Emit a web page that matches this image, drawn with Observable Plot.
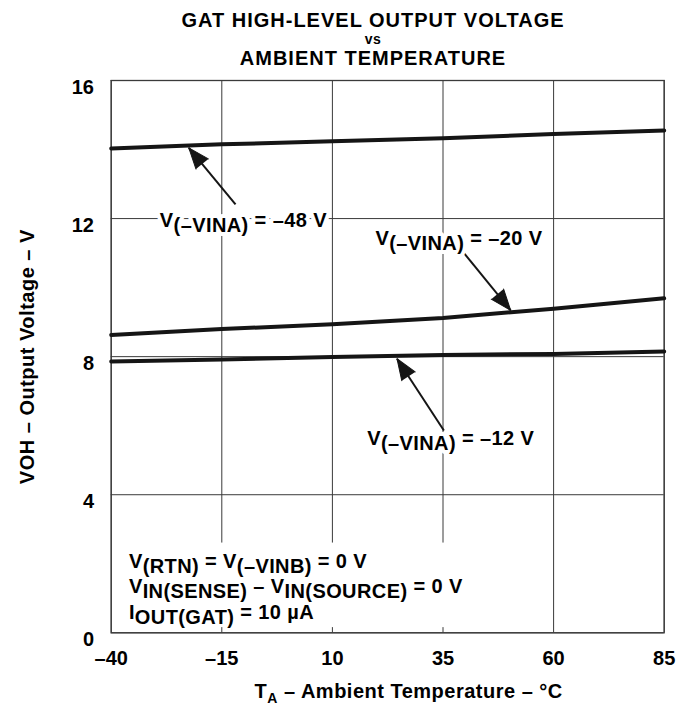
<!DOCTYPE html>
<html><head><meta charset="utf-8">
<script src="https://cdn.jsdelivr.net/npm/d3@7"></script>
<script src="https://cdn.jsdelivr.net/npm/@observablehq/plot@0.6"></script>
<style>
body{margin:0;background:#fff;font-family:"Liberation Sans",Arial,sans-serif;font-weight:bold;color:#000}
#title{position:relative;width:678px;height:72px;overflow:hidden}
#title div{position:absolute;left:0;width:746px;text-align:center;white-space:nowrap;line-height:1}
#chart svg{display:block}
</style></head><body>
<div id="title">
<div style="top:10.1px;font-size:20px;letter-spacing:1px">GAT HIGH-LEVEL OUTPUT VOLTAGE</div>
<div style="top:32.3px;font-size:14px;letter-spacing:0.5px">vs</div>
<div style="top:48.3px;font-size:20px;letter-spacing:1px">AMBIENT TEMPERATURE</div>
</div>
<div id="chart"></div>
<script>
// ---- data ----
const temps  = [-40, -15, 10, 35, 60, 85];
const vout48 = [14.03, 14.15, 14.24, 14.33, 14.45, 14.55];
const vout20 = [8.63, 8.80, 8.94, 9.12, 9.39, 9.69];
const vout12 = [7.86, 7.92, 7.99, 8.05, 8.08, 8.15];
const seriesNames = ["–48 V", "–20 V", "–12 V"];

const xTicks = [-40, -15, 10, 35, 60, 85];
const xTickLabels = ["–40", "–15", "10", "35", "60", "85"];
const yTicks = [0, 4, 8, 12, 16];
const yTickLabels = ["0", "4", "8", "12", "16"];

const xLabel = "T~{A} – Ambient Temperature – °C";
const yLabel = "VOH – Output Voltage – V";

// annotations (data coordinates)
const labelTexts = ["V_{(–VINA)} = –48 V", "V_{(–VINA)} = –20 V", "V_{(–VINA)} = –12 V"];
const labelX = [-29.0, 19.74, 17.87];
const labelY = [11.76, 11.24, 5.45];
const arrowFromX = [-11.9, 39.3, 35.2];
const arrowFromY = [12.41, 11.07, 5.86];
const arrowToX = [-22.46, 50.3, 24.6];
const arrowToY = [14.05, 9.34, 7.94];

const condTexts = ["V_{(RTN)} = V_{(–VINB)} = 0 V", "V_{IN(SENSE)} – V_{IN(SOURCE)} = 0 V", "I_{OUT(GAT)} = 10 µA"];
const condX = [-36.0, -36.0, -36.0];
const condY = [1.88, 1.15, 0.41];
const condBox = [{x1: -38, x2: 42.5, y1: 0.15, y2: 2.6}];

// ---- build tables ----
const allSeries = [vout48, vout20, vout12];
const lineData = [];
allSeries.forEach((vals, s) => vals.forEach((v, i) => lineData.push({t: temps[i], v, series: seriesNames[s]})));

const W = 678, H = 634, mL = 110.7, mR = 14.3, mT = 8, mB = 73.7;
const xDomain = [-40, 85], yDomain = [0, 16];
const kx = (W - mL - mR) / (xDomain[1] - xDomain[0]);
const ky = (H - mT - mB) / (yDomain[1] - yDomain[0]);

const arrows = arrowFromX.map((x1, i) => ({
  x1, y1: arrowFromY[i], x2: arrowToX[i], y2: arrowToY[i],
  angle: Math.atan2((arrowToX[i] - x1) * kx, (arrowToY[i] - arrowFromY[i]) * ky) * 180 / Math.PI
}));
const labels = labelTexts.map((text, i) => ({text, x: labelX[i], y: labelY[i]}));
const conds = condTexts.map((text, i) => ({text, x: condX[i], y: condY[i]}));

const xMap = new Map(xTicks.map((d, i) => [d, xTickLabels[i]]));
const yMap = new Map(yTicks.map((d, i) => [d, yTickLabels[i]]));

const gridColor = "#3a3a3a";
const ink = "#151515";

const chart = Plot.plot({
  width: W, height: H,
  marginLeft: mL, marginRight: mR, marginTop: mT, marginBottom: mB,
  style: {fontFamily: '"Liberation Sans", Arial, sans-serif', fontSize: "20px", fontWeight: "bold", color: "#000", background: "#fff", overflow: "visible"},
  x: {domain: xDomain},
  y: {domain: yDomain},
  marks: [
    Plot.gridX(xTicks, {stroke: gridColor, strokeOpacity: 1, strokeWidth: 1}),
    Plot.gridY(yTicks, {stroke: gridColor, strokeOpacity: 1, strokeWidth: 1}),
    Plot.rect(condBox, {x1: "x1", x2: "x2", y1: "y1", y2: "y2", fill: "white"}),
    Plot.frame({stroke: gridColor, strokeWidth: 1.3}),
    Plot.line(lineData, {x: "t", y: "v", z: "series", stroke: ink, strokeWidth: 4, strokeLinejoin: "round"}),
    Plot.link(arrows, {x1: "x1", y1: "y1", x2: "x2", y2: "y2", stroke: ink, strokeWidth: 2}),
    Plot.vector(arrows, {x: "x2", y: "y2", rotate: "angle", length: 21, r: 8, shape: "spike", anchor: "end", fill: ink, stroke: ink, strokeWidth: 1}),
    Plot.text(labels, {x: "x", y: "y", text: "text", textAnchor: "start", lineAnchor: "bottom", fill: "#000", stroke: "white", strokeWidth: 8, paintOrder: "stroke", fontSize: 20, className: "ls-ann"}),
    Plot.text(conds, {x: "x", y: "y", text: "text", textAnchor: "start", lineAnchor: "bottom", fill: "#000", fontSize: 20, className: "ls-ann"}),
    Plot.axisX(xTicks, {tickSize: 0, tickPadding: 17.5, tickFormat: d => xMap.get(d), fontSize: 20, label: null}),
    Plot.axisY(yTicks, {tickSize: 0, tickPadding: 17.2, tickFormat: d => yMap.get(d), fontSize: 20, dy: 7, label: null}),
    Plot.text([xLabel], {text: d => d, frameAnchor: "bottom", textAnchor: "middle", lineAnchor: "bottom", dx: 21, dy: 64.7, fontSize: 20, className: "ls-axis"}),
    Plot.text([yLabel], {text: d => d, frameAnchor: "left", textAnchor: "middle", lineAnchor: "bottom", rotate: -90, dx: -77.7, fontSize: 20, className: "ls-axis"})
  ]
});

// letter spacing for annotation and axis titles
chart.querySelectorAll(".ls-ann text").forEach(t => t.setAttribute("letter-spacing", "0.4"));
chart.querySelectorAll(".ls-axis text").forEach(t => t.setAttribute("letter-spacing", "0.5"));

// subscripts: _{...} same size, ~{...} small
function richText(svg) {
  const ns = "http://www.w3.org/2000/svg";
  svg.querySelectorAll("text").forEach(t => {
    const s = t.textContent;
    if (!/[_~]\{/.test(s)) return;
    t.textContent = "";
    let cur = 0;
    const add = (txt, kind) => {
      const sp = document.createElementNS(ns, "tspan");
      const want = kind ? 5 : 0;
      if (want !== cur) sp.setAttribute("dy", want - cur);
      if (kind === "~") sp.setAttribute("font-size", "14");
      cur = want;
      sp.textContent = txt;
      t.appendChild(sp);
    };
    const re = /([_~])\{([^}]*)\}/g;
    let last = 0, m;
    while ((m = re.exec(s))) {
      if (m.index > last) add(s.slice(last, m.index), null);
      add(m[2], m[1]);
      last = re.lastIndex;
    }
    if (last < s.length) add(s.slice(last), null);
  });
}
richText(chart);
document.getElementById("chart").appendChild(chart);
</script>
</body></html>
